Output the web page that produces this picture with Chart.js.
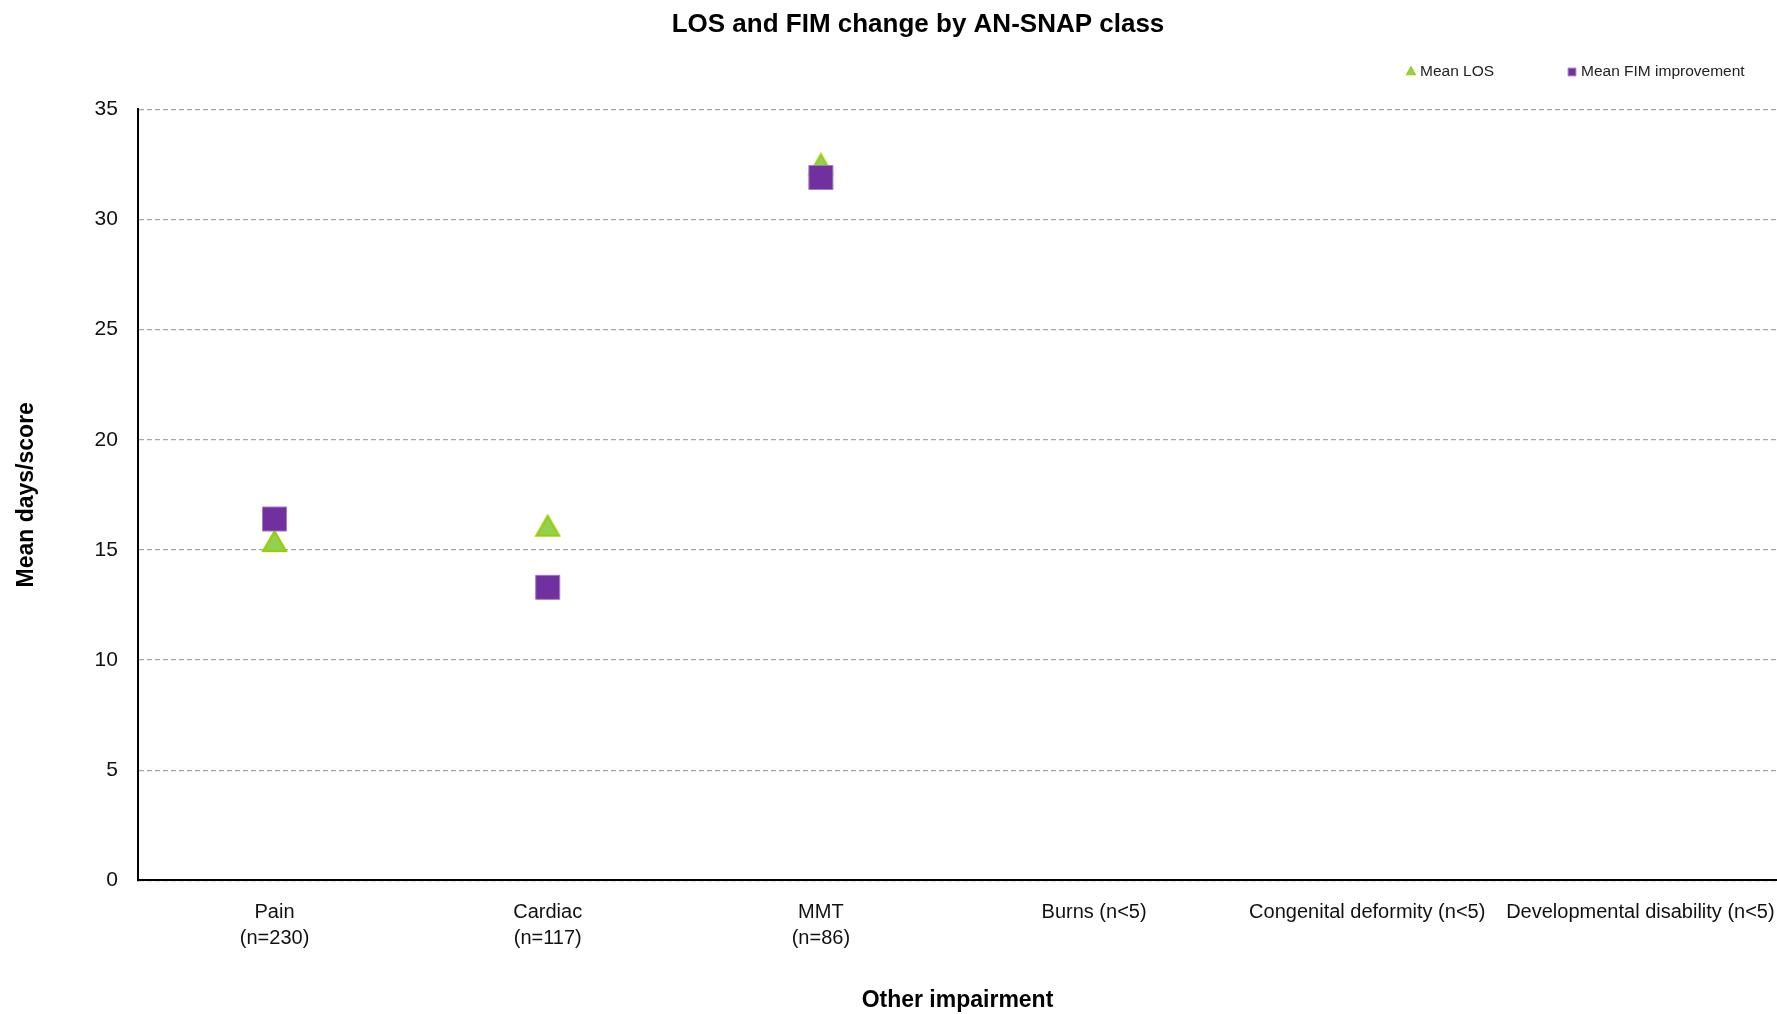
<!DOCTYPE html>
<html>
<head>
<meta charset="utf-8">
<title>LOS and FIM change by AN-SNAP class</title>
<script src="https://cdn.jsdelivr.net/npm/chart.js@4.4.1/dist/chart.umd.min.js"></script>
<style>
  html, body { margin: 0; padding: 0; background: #fff; overflow: hidden; }
  #wrap { width: 1777px; height: 1014px; position: relative; }
</style>
</head>
<body>
<div id="wrap"><canvas id="losChart"></canvas></div>
<script>
// categories (x axis), two lines per label where the source wraps
const categories = [
  ['Pain', '(n=230)'],
  ['Cardiac', '(n=117)'],
  ['MMT', '(n=86)'],
  'Burns (n<5)',
  'Congenital deformity (n<5)',
  'Developmental disability (n<5)'
];

// series values (null = no data shown)
const meanLOS = [15.4, 16.1, 32.5, null, null, null];
const meanFIM = [16.4, 13.3, 31.9, null, null, null];

const yTicks = [0, 5, 10, 15, 20, 25, 30, 35];

const FONT = "'Liberation Sans', Arial, sans-serif";
const GREEN = '#92D050', GREEN_EDGE = '#9ACD00';
const PURPLE = '#7030A0', PURPLE_EDGE = '#A57BC6';

// triangle marker centred on its bounding box (Excel style)
function makeTriangle(w, h, fill, stroke, lw) {
  const c = document.createElement('canvas');
  c.width = w; c.height = h;
  const g = c.getContext('2d');
  g.beginPath();
  g.moveTo(w / 2, lw);
  g.lineTo(w - lw, h - lw);
  g.lineTo(lw, h - lw);
  g.closePath();
  g.fillStyle = fill;
  g.fill();
  g.lineWidth = lw;
  g.strokeStyle = stroke;
  g.stroke();
  return c;
}
const triangleImg = makeTriangle(27, 24, GREEN, GREEN_EDGE, 2);

// legend drawn by hand so the item spacing can match the original
const legendShapes = ['triangle', 'rect'];
const legendPlugin = {
  id: 'sideLegend',
  afterDraw(chart) {
    const ctx = chart.ctx;
    const y = 72;
    const xs = [chart.width - 366, chart.width - 205];
    ctx.save();
    ctx.font = '15.5px ' + FONT;
    ctx.textBaseline = 'middle';
    ctx.textAlign = 'left';
    chart.data.datasets.forEach((ds, i) => {
      ctx.fillStyle = ds.backgroundColor;
      ctx.strokeStyle = ds.borderColor;
      ctx.lineWidth = 1;
      Chart.helpers.drawPoint(ctx, {
        pointStyle: legendShapes[i],
        radius: 5.5,
        rotation: 0,
        borderWidth: 1
      }, xs[i], y);
      ctx.fillStyle = '#222';
      ctx.fillText(ds.label, xs[i] + 9, y);
    });
    ctx.restore();
  }
};

// nudge the title a little right, as in the source
const titleShift = {
  id: 'titleShift',
  afterLayout(chart) {
    if (chart.titleBlock) chart.titleBlock.left += 46;
  }
};

const ctx = document.getElementById('losChart').getContext('2d');
new Chart(ctx, {
  type: 'line',
  data: {
    labels: categories,
    datasets: [
      {
        label: 'Mean LOS',
        data: meanLOS,
        showLine: false,
        pointStyle: triangleImg,
        pointRadius: 13,
        pointHoverRadius: 13,
        backgroundColor: GREEN,
        borderColor: GREEN_EDGE,
        borderWidth: 2,
        order: 1
      },
      {
        label: 'Mean FIM improvement',
        data: meanFIM,
        showLine: false,
        pointStyle: 'rect',
        pointRadius: 17,
        pointHoverRadius: 17,
        backgroundColor: PURPLE,
        borderColor: PURPLE_EDGE,
        borderWidth: 1,
        order: 0
      }
    ]
  },
  options: {
    responsive: true,
    maintainAspectRatio: false,
    animation: false,
    layout: { autoPadding: false, padding: { left: 13, right: 0, top: 0, bottom: 0 } },
    plugins: {
      title: {
        display: true,
        text: 'LOS and FIM change by AN-SNAP class',
        color: '#000',
        font: { family: FONT, size: 26, weight: 'bold' },
        padding: { top: 9, bottom: 69 }
      },
      legend: { display: false },
      tooltip: { enabled: false }
    },
    scales: {
      x: {
        type: 'category',
        offset: true,
        // invisible tick marks give the label gap without side padding
        grid: { display: false, drawTicks: true, tickLength: 19 },
        border: { display: true, color: '#000', width: 2 },
        ticks: {
          color: '#111',
          font: { family: FONT, size: 20, lineHeight: 1.3 },
          padding: 0,
          maxRotation: 0,
          autoSkip: false
        },
        afterFit: scale => { scale.paddingRight = 0; },
        title: {
          display: true,
          text: 'Other impairment',
          color: '#000',
          font: { family: FONT, size: 23, weight: 'bold' },
          padding: { top: 35, bottom: 0 }
        }
      },
      y: {
        min: yTicks[0],
        max: yTicks[yTicks.length - 1],
        afterBuildTicks: axis => { axis.ticks = yTicks.map(v => ({ value: v })); },
        grid: {
          color: '#A6A6A6',
          lineWidth: 1.2,
          drawTicks: false
        },
        border: { display: true, color: '#000', width: 2, dash: [5, 3] },
        ticks: {
          color: '#111',
          font: { family: FONT, size: 21 },
          padding: 20
        },
        title: {
          display: true,
          text: 'Mean days/score',
          color: '#000',
          font: { family: FONT, size: 23, weight: 'bold' },
          padding: { top: 0, bottom: 34 }
        }
      }
    }
  },
  plugins: [legendPlugin, titleShift]
});
</script>
</body>
</html>
